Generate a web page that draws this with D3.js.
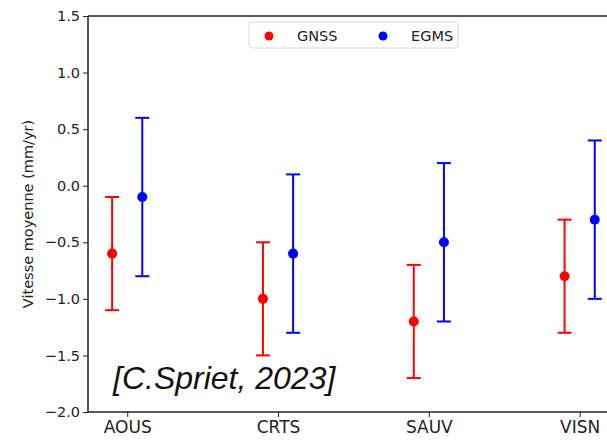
<!DOCTYPE html>
<html>
<head>
<meta charset="utf-8">
<script src="https://cdn.jsdelivr.net/npm/d3@7"></script>
<style>
  body { margin: 0; background: #fff; }
  svg { display: block; }
</style>
</head>
<body>
<div id="chart"></div>
<script>
// data
var stations = ['AOUS', 'CRTS', 'SAUV', 'VISN'];
var gnssMean = [-0.6, -1.0, -1.2, -0.8];
var gnssErr = [0.5, 0.5, 0.5, 0.5];
var egmsMean = [-0.1, -0.6, -0.5, -0.3];
var egmsErr = [0.7, 0.7, 0.7, 0.7];
var yTicks = [-2.0, -1.5, -1.0, -0.5, 0.0, 0.5, 1.0, 1.5];

var width = 607, height = 440;
var red = '#ff0000', blue = '#0000ff', spine = '#222';
var mainFont = '"DejaVu Sans", sans-serif';

var svg = d3.select('#chart').append('svg')
    .attr('width', width)
    .attr('height', height);

var x = d3.scaleLinear().domain([-0.26, 3.4]).range([88, 640]);
var y = d3.scaleLinear().domain([-2.0, 1.5]).range([412, 16]);
var offset = d3.scaleOrdinal().domain(['GNSS', 'EGMS']).range([-0.1, 0.1]);

// axes
var yAxis = d3.axisLeft(y)
    .tickValues(yTicks)
    .tickSize(5)
    .tickPadding(3)
    .tickFormat(function(d) { return d3.format('.1f')(d).replace('-', '\u2212'); });

var gy = svg.append('g')
    .attr('transform', 'translate(' + x.range()[0] + ',0)')
    .call(yAxis);
gy.select('.domain').remove();
gy.selectAll('line').attr('stroke', spine).attr('stroke-width', 1);
gy.selectAll('text')
    .attr('fill', '#222')
    .style('font-family', mainFont)
    .style('font-size', '14.5px');

var xAxis = d3.axisBottom(x)
    .tickValues(d3.range(stations.length))
    .tickSize(5)
    .tickPadding(4)
    .tickFormat(function(i) { return stations[i]; });

var gx = svg.append('g')
    .attr('transform', 'translate(0,' + y.range()[0] + ')')
    .call(xAxis);
gx.select('.domain').remove();
gx.selectAll('line').attr('stroke', spine).attr('stroke-width', 1);
gx.selectAll('text')
    .attr('fill', '#222')
    .style('font-family', mainFont)
    .style('font-size', '17px');

// spines
svg.append('line')
    .attr('x1', x.range()[0]).attr('x2', x.range()[0])
    .attr('y1', y.range()[1]).attr('y2', y.range()[0])
    .attr('stroke', spine).attr('stroke-width', 1.5);
svg.append('line')
    .attr('x1', x.range()[0]).attr('x2', width)
    .attr('y1', y.range()[0]).attr('y2', y.range()[0])
    .attr('stroke', spine).attr('stroke-width', 1.5);
svg.append('line')
    .attr('x1', x.range()[0]).attr('x2', width)
    .attr('y1', y.range()[1]).attr('y2', y.range()[1])
    .attr('stroke', spine).attr('stroke-width', 1.5);

// y label
svg.append('text')
    .attr('transform', 'translate(33,' + y(-0.25) + ') rotate(-90)')
    .attr('text-anchor', 'middle')
    .attr('fill', '#222')
    .style('font-family', mainFont)
    .style('font-size', '14.5px')
    .text('Vitesse moyenne (mm/yr)');

// error bars
function drawSeries(name, means, errs, color) {
    var g = svg.append('g').attr('class', name);
    var rows = means.map(function(m, i) { return { i: i, m: m, e: errs[i] }; });
    var cx = function(d) { return x(d.i + offset(name)); };
    var cap = 7;

    g.selectAll('line.bar').data(rows).enter().append('line')
        .attr('x1', cx).attr('x2', cx)
        .attr('y1', function(d) { return y(d.m - d.e); })
        .attr('y2', function(d) { return y(d.m + d.e); })
        .attr('stroke', color).attr('stroke-width', 2);

    [-1, 1].forEach(function(s) {
        g.selectAll('line.cap' + s).data(rows).enter().append('line')
            .attr('x1', function(d) { return cx(d) - cap; })
            .attr('x2', function(d) { return cx(d) + cap; })
            .attr('y1', function(d) { return y(d.m + s * d.e); })
            .attr('y2', function(d) { return y(d.m + s * d.e); })
            .attr('stroke', color).attr('stroke-width', 2);
    });

    g.selectAll('circle').data(rows).enter().append('circle')
        .attr('cx', cx)
        .attr('cy', function(d) { return y(d.m); })
        .attr('r', 5)
        .attr('fill', color);
}

drawSeries('GNSS', gnssMean, gnssErr, red);
drawSeries('EGMS', egmsMean, egmsErr, blue);

// legend
var legend = svg.append('g').attr('transform', 'translate(249,22)');
legend.append('rect')
    .attr('width', 209).attr('height', 26)
    .attr('rx', 3)
    .attr('fill', '#fff')
    .attr('stroke', '#d8d8d8');
[['GNSS', red, 20], ['EGMS', blue, 134]].forEach(function(item) {
    legend.append('circle')
        .attr('cx', item[2]).attr('cy', 14).attr('r', 4.5)
        .attr('fill', item[1]);
    legend.append('text')
        .attr('x', item[2] + 28).attr('y', 19)
        .attr('fill', '#222')
        .style('font-family', mainFont)
        .style('font-size', '14.5px')
        .text(item[0]);
});

// citation
svg.append('text')
    .attr('x', 113).attr('y', 389)
    .attr('fill', '#111')
    .style('font-family', '"Liberation Sans", Arial, sans-serif')
    .style('font-style', 'italic')
    .style('font-size', '32px')
    .text('[C.Spriet, 2023]');
</script>
</body>
</html>
